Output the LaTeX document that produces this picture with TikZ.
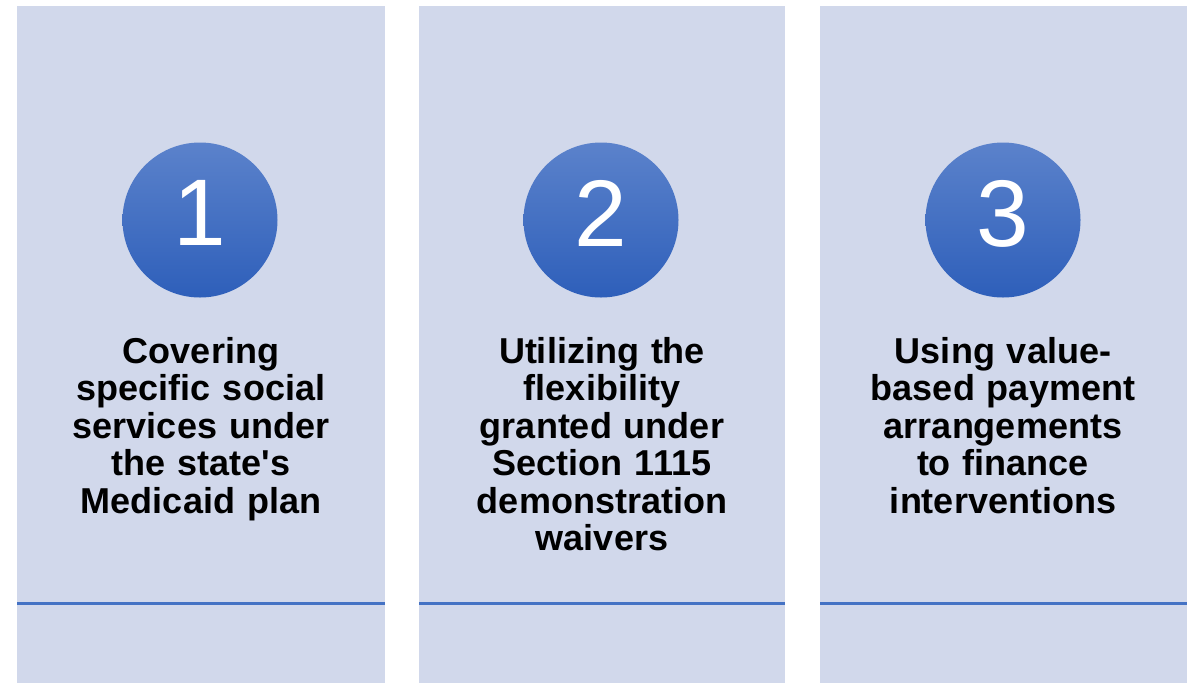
\documentclass[tikz,border=0pt]{standalone}
\usepackage{fontspec}
\setmainfont{Liberation Sans}
\usepackage{xcolor}
\usetikzlibrary{positioning}
\definecolor{panelfill}{HTML}{D1D8EB}
\definecolor{rulebl}{HTML}{4472C4}
\definecolor{circtop}{HTML}{5B82CB}
\definecolor{circbot}{HTML}{2E5FBA}

\begin{document}
\begin{tikzpicture}[x=0.75pt, y=-0.75pt,
    panel/.style={fill=panelfill, draw=none},
    numcirc/.style={circle, minimum size=116.25pt, inner sep=0pt, text depth=10.5pt, top color=circtop, bottom color=circbot, text=white, font=\fontsize{71}{71}\selectfont},
    caption/.style={anchor=north, align=center, text width=250pt, inner sep=0pt, font=\bfseries\fontsize{27}{28.1}\selectfont}]
     \useasboundingbox (0,0) rectangle (1192,683); %page size
     %
     \fill[panel] (17,6) rectangle (385,683);
     \fill[panel] (419,6) rectangle (785,683);
     \fill[panel] (820,6) rectangle (1187,683);
     %
     \draw[rulebl, line width=2.4pt] (17,603.5) -- (385,603.5);
     \draw[rulebl, line width=2.4pt] (419,603.5) -- (785,603.5);
     \draw[rulebl, line width=2.4pt] (820,603.5) -- (1187,603.5);
     %
     \node[numcirc] (one) at (200,220) {1};
     \node[numcirc] (two) at (601,220) {2};
     \node[numcirc] (three) at (1003,220) {3};
     %
     \node[caption] (covering) at (201,337)
     {Covering\\ specific social\\ services under\\ the state\textquotesingle s\\ Medicaid plan};
     \node[caption] (utilizing) at (602,337)
     {Utilizing the\\ flexibility\\ granted under\\ Section 1115\\ demonstration\\ waivers};
     \node[caption] (using) at (1003,337)
     {Using value-\\ based payment\\ arrangements\\ to finance\\ interventions};
\end{tikzpicture}
\end{document}
